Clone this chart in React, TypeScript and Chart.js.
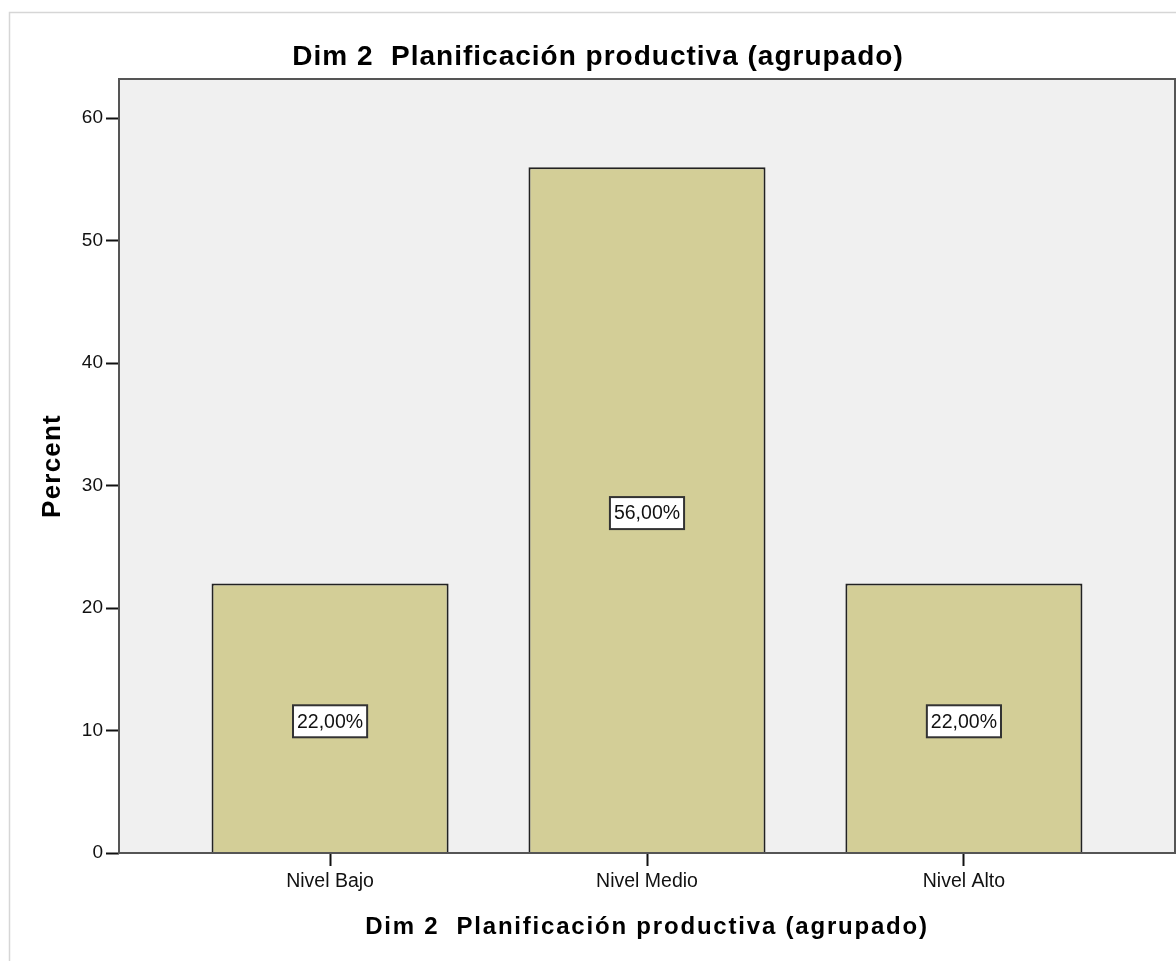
import React, { useEffect, useRef } from 'react';
import { Chart, registerables } from 'chart.js';

Chart.register(...registerables);

const categories = ['Nivel Bajo', 'Nivel Medio', 'Nivel Alto'];
const percents = [22, 56, 22];
const yTickValues = [0, 10, 20, 30, 40, 50, 60];
const chartTitle = 'Dim 2  Planificación productiva (agrupado)';
const xAxisTitle = 'Dim 2  Planificación productiva (agrupado)';
const yAxisTitle = 'Percent';
const yAxisMax = 63.2;

const FONT = 'Arial, "Liberation Sans", sans-serif';

export default function App() {
  const ref = useRef<HTMLCanvasElement>(null);

  useEffect(() => {
    document.body.style.margin = '0';
    const canvas = ref.current!;

    const deco = {
      id: 'deco',
      beforeDraw(chart: any) {
        const { ctx, chartArea: a } = chart;
        ctx.save();
        ctx.fillStyle = '#ffffff';
        ctx.fillRect(0, 0, chart.width, chart.height);
        ctx.strokeStyle = '#d6d6d6';
        ctx.lineWidth = 1.5;
        ctx.strokeRect(9.5, 12.5, chart.width + 20, chart.height + 20);
        ctx.fillStyle = '#f0f0f0';
        ctx.fillRect(a.left, a.top, a.right - a.left, a.bottom - a.top);
        ctx.restore();
      },
      afterDatasetsDraw(chart: any) {
        const { ctx } = chart;
        const meta = chart.getDatasetMeta(0);
        const ys = chart.scales.y;
        ctx.save();
        ctx.font = `19.5px ${FONT}`;
        ctx.textAlign = 'center';
        ctx.textBaseline = 'middle';
        meta.data.forEach((bar: any, i: number) => {
          const text = percents[i].toFixed(2).replace('.', ',') + '%';
          const cx = bar.x;
          const cy = ys.getPixelForValue(percents[i] / 2) + 3;
          const tw = ctx.measureText(text).width;
          const w = tw + 8;
          const h = 32;
          ctx.fillStyle = '#ffffff';
          ctx.fillRect(cx - w / 2, cy - h / 2, w, h);
          ctx.strokeStyle = '#333333';
          ctx.lineWidth = 2;
          ctx.strokeRect(cx - w / 2, cy - h / 2, w, h);
          ctx.fillStyle = '#111111';
          ctx.fillText(text, cx, cy + 1);
        });
        ctx.restore();
      },
      afterDraw(chart: any) {
        const { ctx, chartArea: a } = chart;
        ctx.save();
        ctx.strokeStyle = '#555555';
        ctx.lineWidth = 2;
        ctx.strokeRect(a.left, a.top, a.right - a.left, a.bottom - a.top);

        ctx.fillStyle = '#000000';
        ctx.textAlign = 'center';
        ctx.textBaseline = 'alphabetic';
        ctx.font = `bold 28px ${FONT}`;
        (ctx as any).letterSpacing = '1px';
        ctx.fillText(chartTitle, 598, 65);

        ctx.font = `bold 24px ${FONT}`;
        (ctx as any).letterSpacing = '1.8px';
        ctx.fillText(xAxisTitle, (a.left + a.right) / 2, 934);

        ctx.translate(60, (a.top + a.bottom) / 2);
        ctx.rotate(-Math.PI / 2);
        ctx.font = `bold 26px ${FONT}`;
        (ctx as any).letterSpacing = '1.2px';
        ctx.fillText(yAxisTitle, 0, 0);
        ctx.restore();
      },
    };

    const chart = new Chart(canvas, {
      type: 'bar',
      data: {
        datasets: [
          {
            data: percents.map((v, i) => ({ x: i + 1, y: v })),
            backgroundColor: '#d3ce97',
            borderColor: '#222222',
            borderWidth: 2,
            barPercentage: 0.748,
            categoryPercentage: 1,
          },
        ],
      },
      options: {
        animation: false,
        responsive: false,
        devicePixelRatio: 1,
        layout: { padding: { top: 79, right: 1, bottom: 68, left: 0 } },
        plugins: {
          legend: { display: false },
          title: { display: false },
          tooltip: { enabled: false },
        },
        scales: {
          x: {
            type: 'linear',
            min: 0.334,
            max: 3.666,
            offset: false,
            border: { display: false },
            grid: {
              display: true,
              offset: false,
              drawOnChartArea: false,
              drawTicks: true,
              tickLength: 13,
              tickColor: '#111111',
              tickWidth: 2,
            },
            ticks: {
              autoSkip: false,
              maxRotation: 0,
              padding: 4,
              color: '#111111',
              font: { family: FONT, size: 19.5 },
              callback: (v: any) => categories[Number(v) - 1] ?? '',
            },
            afterBuildTicks: (scale: any) => {
              scale.ticks = categories.map((_, i) => ({ value: i + 1 }));
            },
            afterFit: (scale: any) => {
              scale.height = 40;
            },
          },
          y: {
            min: 0,
            max: yAxisMax,
            border: { display: false },
            grid: {
              display: true,
              drawOnChartArea: false,
              drawTicks: true,
              tickLength: 13,
              tickColor: '#111111',
              tickWidth: 2,
            },
            ticks: {
              padding: 3,
              color: '#111111',
              font: { family: FONT, size: 19 },
            },
            afterBuildTicks: (scale: any) => {
              scale.ticks = yTickValues.map((v) => ({ value: v }));
            },
            afterFit: (scale: any) => {
              scale.width = 119;
            },
          },
        },
      },
      plugins: [deco],
    } as any);

    return () => chart.destroy();
  }, []);

  return <canvas ref={ref} width={1176} height={961} style={{ display: 'block', width: 1176, height: 961 }} />;
}
